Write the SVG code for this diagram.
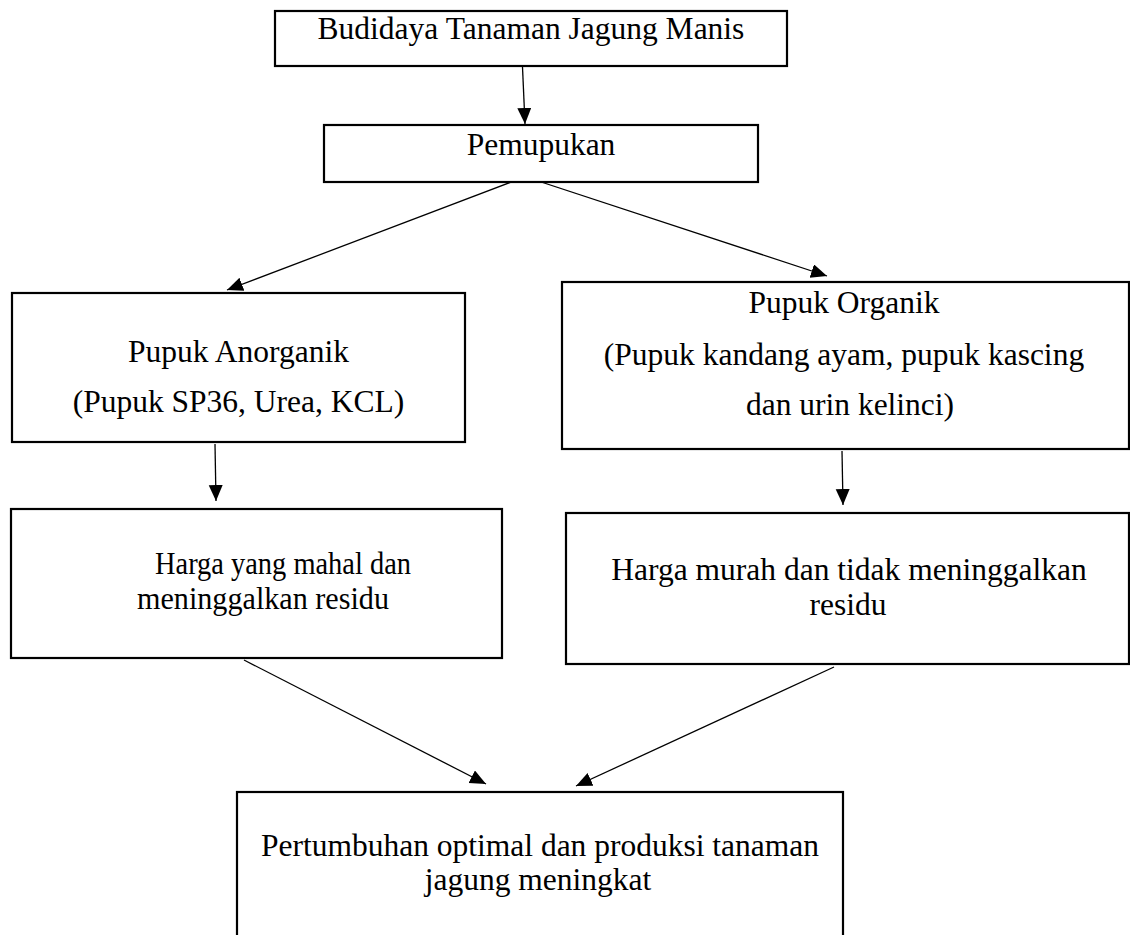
<svg xmlns="http://www.w3.org/2000/svg" width="1130" height="935" viewBox="0 0 1130 935">
<style>
.box{fill:#fff;stroke:#000;stroke-width:2.2}
.t{font-family:"Liberation Serif","Times New Roman",serif;font-size:31.5px;fill:#000;text-anchor:middle}
.c{stroke:#000;stroke-width:1.3;fill:none;marker-end:url(#ah)}
</style>
<defs>
<marker id="ah" markerUnits="userSpaceOnUse" markerWidth="17" markerHeight="15" refX="16" refY="7" orient="auto">
<path d="M0,0 L16,7 L0,14 Z" fill="#000"/>
</marker>
</defs>
<rect width="1130" height="935" fill="#fff"/>
<g id="connectors">
<line class="c" x1="522.5" y1="67" x2="525" y2="124"/>
<line class="c" x1="522" y1="178" x2="227" y2="290"/>
<line class="c" x1="529" y1="178" x2="827" y2="276"/>
<line class="c" x1="215" y1="444" x2="216" y2="501"/>
<line class="c" x1="842" y1="451" x2="843" y2="505"/>
<line class="c" x1="244" y1="660" x2="486" y2="784"/>
<line class="c" x1="834" y1="667" x2="576" y2="786"/>
</g>
<g id="n1"><rect class="box" x="275" y="11" width="512" height="55"/><text class="t" x="531" y="39">Budidaya Tanaman Jagung Manis</text></g>
<g id="n2"><rect class="box" x="324" y="125" width="434" height="57"/><text class="t" x="541" y="155">Pemupukan</text></g>
<g id="n3"><rect class="box" x="12" y="293" width="453" height="149"/><text class="t" x="238.5" y="362">Pupuk Anorganik</text><text class="t" x="238.5" y="412">(Pupuk SP36, Urea, KCL)</text></g>
<g id="n4"><rect class="box" x="562" y="282" width="567" height="167"/><text class="t" x="844" y="313">Pupuk Organik</text><text class="t" x="844" y="365">(Pupuk kandang ayam, pupuk kascing</text><text class="t" x="850" y="415">dan urin kelinci)</text></g>
<g id="n5"><rect class="box" x="11" y="509" width="491" height="149"/><text class="t" x="283" y="574" textLength="256" lengthAdjust="spacingAndGlyphs">Harga yang mahal dan</text><text class="t" x="263" y="609" textLength="252" lengthAdjust="spacingAndGlyphs">meninggalkan residu</text></g>
<g id="n6"><rect class="box" x="566" y="513" width="563" height="151"/><text class="t" x="849" y="580">Harga murah dan tidak meninggalkan</text><text class="t" x="848" y="615">residu</text></g>
<g id="n7"><rect class="box" x="237" y="792" width="606" height="160"/><text class="t" x="540" y="856">Pertumbuhan optimal dan produksi tanaman</text><text class="t" x="538" y="890">jagung meningkat</text></g>
</svg>
